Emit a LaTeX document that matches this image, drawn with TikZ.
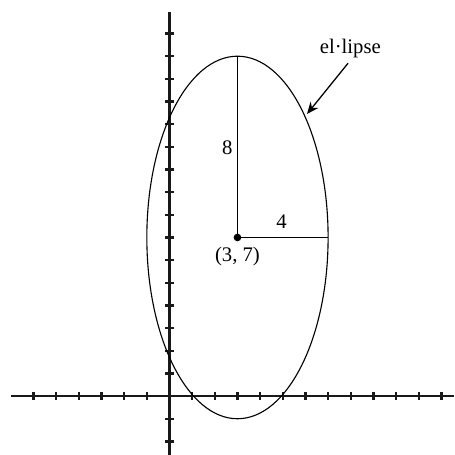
\documentclass[tikz,border=0pt]{standalone}
\usepackage{fontspec}
\setmainfont{Liberation Serif}
\usetikzlibrary{arrows.meta}
\tikzset{
  axisline/.style={line width=1.45pt,black!90},
  curveline/.style={line width=0.7pt},
  centerv/.style={circle,fill=black,inner sep=1.7pt},
  pointArrow/.style={-{Stealth[length=2.6mm,width=2.2mm]},line width=0.8pt},
  lbl/.style={font=\fontsize{13}{15}\selectfont,inner sep=1pt}
}
\begin{document}
\begin{tikzpicture}[scale=0.5]
  \useasboundingbox (-7.48,-2.60) rectangle (12.56,17.48);
  % axes
  \coordinate (xl) at (-7.0,0);
  \coordinate (xr) at (12.56,0);
  \coordinate (yb) at (0,-2.60);
  \coordinate (yt) at (0,16.95);
  \draw[axisline] (xl) -- (xr);
  \draw[axisline] (yb) -- (yt);
  \foreach \i in {-6,...,-1,1,2,...,12}
    \draw[axisline] (\i,-0.16) -- (\i,0.16);
  \foreach \j in {-2,-1,1,2,...,16}
    \draw[axisline] (-0.18,\j) -- (0.18,\j);
  % ellipse and semi-axes
  \node[centerv] (c) at (3,7) {};
  \coordinate (top) at (3,15);
  \coordinate (rgt) at (7,7);
  \draw[curveline] (c) ellipse [x radius=4,y radius=8];
  \draw[curveline] (c.center) -- (top);
  \draw[curveline] (c.center) -- (rgt);
  \node[lbl] (eight) at (2.55,10.95) {8};
  \node[lbl] (four) at (4.95,7.68) {4};
  \node[lbl] (cname) at (3.0,6.18) {(3, 7)};
  \node[lbl] (ename) at (7.98,15.35) {el·lipse};
  \coordinate (etail) at (7.88,14.69);
  \coordinate (etip) at (6.07,12.45);
  \draw[pointArrow] (etail) -- (etip);
\end{tikzpicture}
\end{document}
